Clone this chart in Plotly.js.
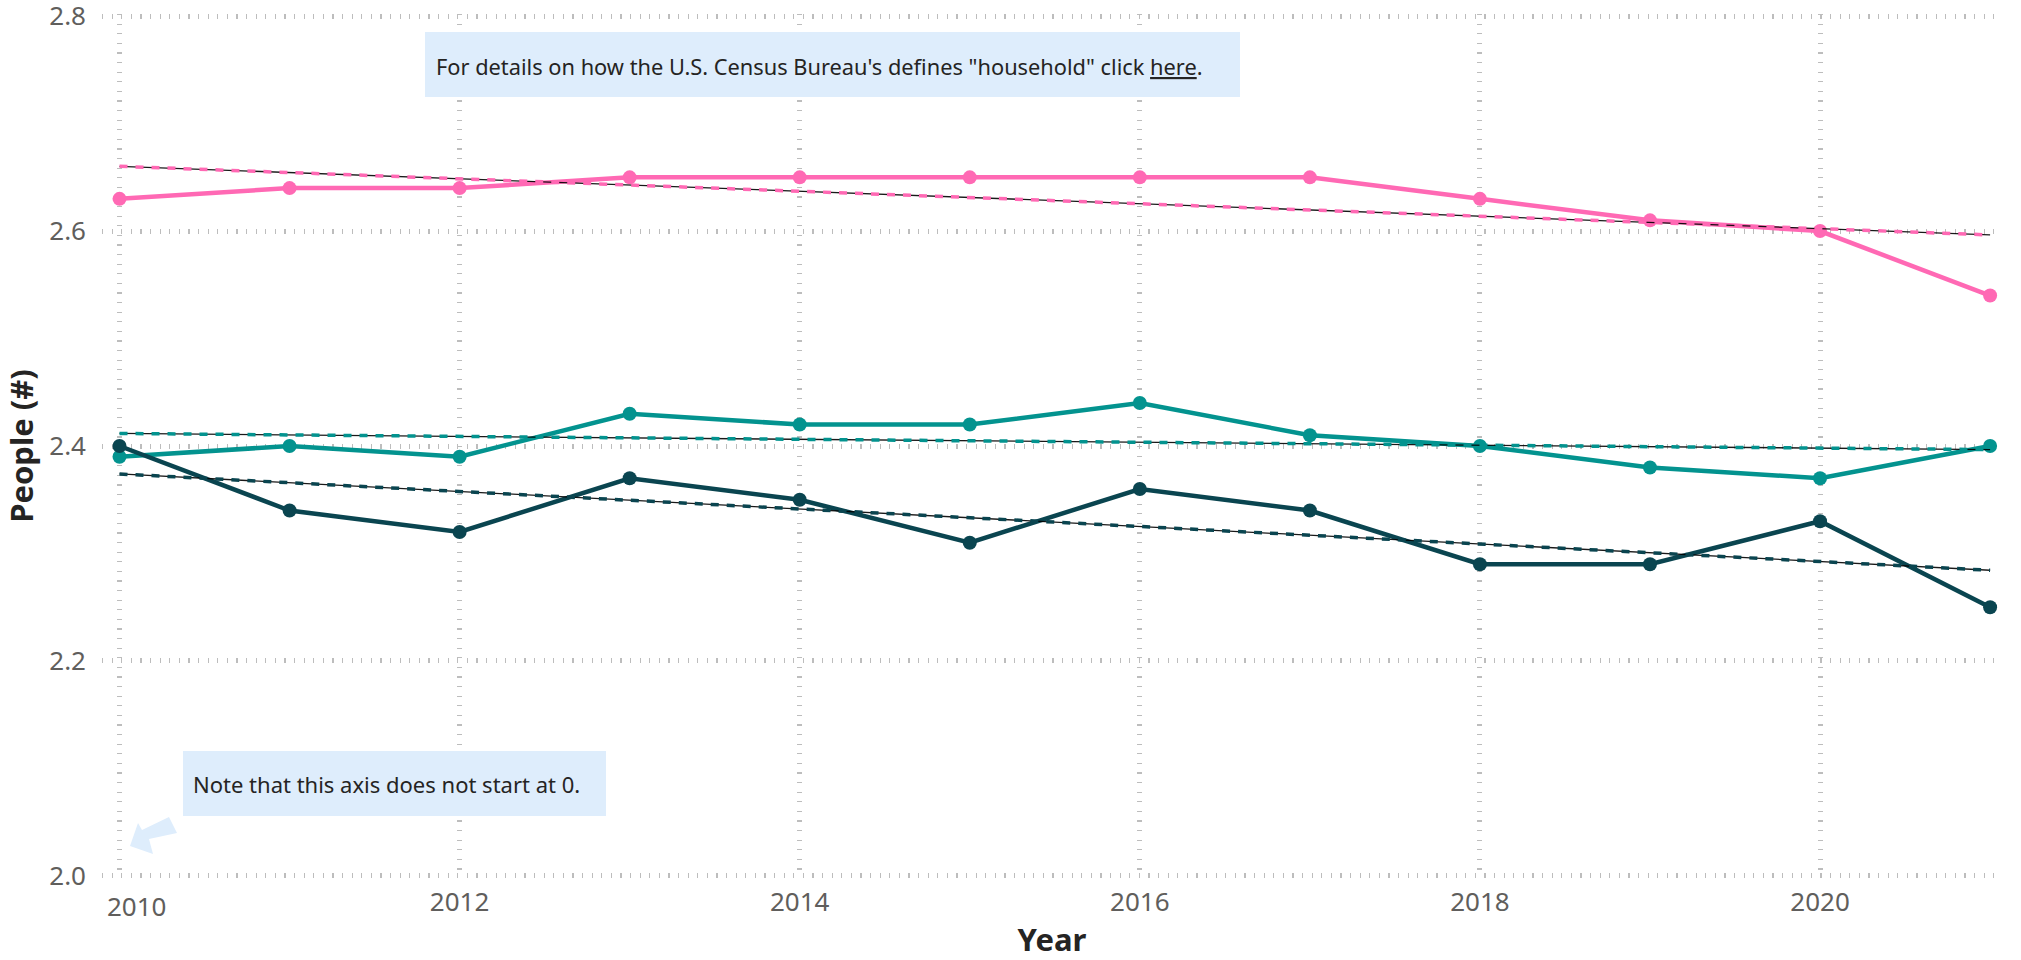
<!DOCTYPE html>
<html>
<head>
<meta charset="utf-8">
<script src="https://cdn.plot.ly/plotly-3.0.1.min.js"></script>
<style>
  html, body { margin: 0; padding: 0; background: #ffffff; }
  #chart { width: 2021px; height: 960px; }
</style>
</head>
<body>
<div id="chart"></div>
<script>
// ---- Data ----
const years = [2010, 2011, 2012, 2013, 2014, 2015, 2016, 2017, 2018, 2019, 2020, 2021];
const pinkSeries = [2.63, 2.64, 2.64, 2.65, 2.65, 2.65, 2.65, 2.65, 2.63, 2.61, 2.60, 2.54];
const tealSeries = [2.39, 2.40, 2.39, 2.43, 2.42, 2.42, 2.44, 2.41, 2.40, 2.38, 2.37, 2.40];
const darkSeries = [2.40, 2.34, 2.32, 2.37, 2.35, 2.31, 2.36, 2.34, 2.29, 2.29, 2.33, 2.25];
const seriesNames = ["Series 1", "Series 2", "Series 3"];
const xTickVals = [2010, 2012, 2014, 2016, 2018, 2020];
const xTickText = ["", "2012", "2014", "2016", "2018", "2020"];
const firstXLabel = "2010";
const yTickVals = [2.0, 2.2, 2.4, 2.6, 2.8];
const yTickText = ["2.0", "2.2", "2.4", "2.6", "2.8"];
const noteTop = 'For details on how the U.S. Census Bureau\'s defines "household" click <u>here</u>.';
const noteBottom = 'Note that this axis does not start at 0.';

// ---- Styles ----
const colors = ["#FF69B4", "#03938F", "#0A4550"];
const FONT = '"Segoe UI", "Noto Sans", sans-serif';

// least-squares trend line of a series
function trend(xs, ys) {
  const n = xs.length;
  const mx = xs.reduce((a, b) => a + b, 0) / n;
  const my = ys.reduce((a, b) => a + b, 0) / n;
  let sxy = 0, sxx = 0;
  for (let i = 0; i < n; i++) { sxy += (xs[i] - mx) * (ys[i] - my); sxx += (xs[i] - mx) * (xs[i] - mx); }
  const b = sxy / sxx, a = my - b * mx;
  return [a + b * xs[0], a + b * xs[n - 1]];
}

const allSeries = [pinkSeries, tealSeries, darkSeries];
const traces = [];
allSeries.forEach((ys, i) => {
  traces.push({
    x: years, y: ys, name: seriesNames[i], type: "scatter", mode: "lines+markers",
    line: { color: colors[i], width: 4.5 },
    marker: { color: colors[i], size: 14 },
    hoverinfo: "x+y+name"
  });
});
allSeries.forEach((ys, i) => {
  const t = trend(years, ys);
  const tx = [years[0], years[years.length - 1]];
  traces.push({ x: tx, y: t, type: "scatter", mode: "lines", showlegend: false, hoverinfo: "skip",
    line: { color: "rgba(0,0,0,0.9)", width: 1.3 } });
  traces.push({ x: tx, y: t, type: "scatter", mode: "lines", showlegend: false, hoverinfo: "skip",
    line: { color: colors[i], width: 3.5, dash: "8px,8px" } });
});

// plot-area geometry (pixels)
const W = 2021, H = 960;
const M = { l: 102, r: 19, t: 14, b: 82 };
const PW = W - M.l - M.r, PH = H - M.t - M.b;
const px = X => (X - M.l) / PW;
const py = Y => (H - M.b - Y) / PH;

// arrow polygon in pixels
const arrowPts = [[130, 846], [138, 823], [142, 830], [169, 817], [177, 833], [149, 839], [153, 854]];
const arrowPath = "M " + arrowPts.map(p => px(p[0]).toFixed(5) + "," + py(p[1]).toFixed(5)).join(" L ") + " Z";

const boxColor = "#DEEDFC";

const layout = {
  width: W, height: H,
  margin: M,
  paper_bgcolor: "#ffffff", plot_bgcolor: "#ffffff",
  showlegend: false,
  font: { family: FONT, color: "#605E5C" },
  xaxis: {
    range: [2009.897, 2021.07],
    tickvals: xTickVals,
    ticktext: xTickText,
    tickfont: { family: FONT, size: 26, color: "#605E5C" },
    showgrid: true, gridcolor: "#BDBDBD", gridwidth: 5, griddash: "1.2px,8.4px",
    zeroline: false, showline: false, ticks: "",
    ticklabelstandoff: 6, ticklabeloverflow: "allow",
    title: { text: "<b>Year</b>", font: { family: FONT, size: 31, color: "#252423" }, standoff: 14 }
  },
  yaxis: {
    range: [1.998, 2.802],
    tickvals: yTickVals, ticktext: yTickText,
    tickfont: { family: FONT, size: 26, color: "#605E5C" },
    showgrid: true, gridcolor: "#BDBDBD", gridwidth: 5, griddash: "1.2px,8.4px",
    zeroline: false, showline: false, ticks: "",
    ticklabelstandoff: 15, ticklabeloverflow: "allow",
    title: { text: "<b>People (#)</b>", font: { family: FONT, size: 31, color: "#252423" }, standoff: 10 }
  },
  shapes: [
    { type: "rect", xref: "paper", yref: "paper", x0: px(425), x1: px(1240), y0: py(97), y1: py(32),
      fillcolor: boxColor, line: { width: 0 }, layer: "above" },
    { type: "rect", xref: "paper", yref: "paper", x0: px(183), x1: px(606), y0: py(816), y1: py(751),
      fillcolor: boxColor, line: { width: 0 }, layer: "above" },
    { type: "path", xref: "paper", yref: "paper", path: arrowPath, fillcolor: boxColor, line: { width: 0 }, layer: "above" }
  ],
  annotations: [
    { xref: "paper", yref: "paper", x: px(434), y: py(66), xanchor: "left", yanchor: "middle",
      text: noteTop, showarrow: false,
      font: { family: FONT, size: 21.8, color: "#252423" } },
    { xref: "paper", yref: "paper", x: px(191), y: py(784), xanchor: "left", yanchor: "middle",
      text: noteBottom, showarrow: false,
      font: { family: FONT, size: 22, color: "#252423" } },
    { xref: "x", yref: "paper", x: xTickVals[0], y: 0, xanchor: "left", yanchor: "top", xshift: -15, yshift: -8,
      text: firstXLabel, showarrow: false, font: { family: FONT, size: 26, color: "#605E5C" } }
  ]
};

Plotly.newPlot("chart", traces, layout, { displayModeBar: false, staticPlot: true });
</script>
</body>
</html>
